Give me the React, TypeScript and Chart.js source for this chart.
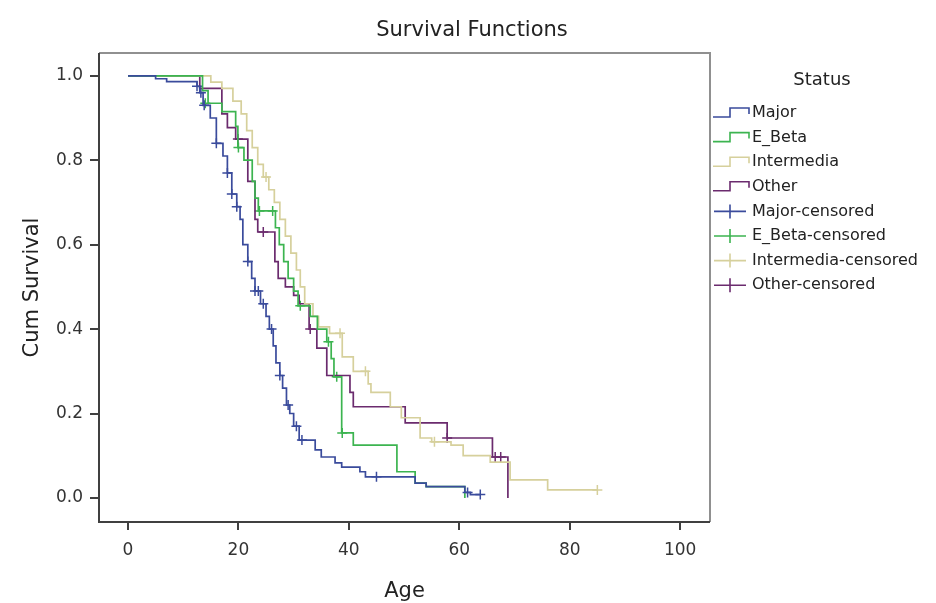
import React, { useEffect, useRef } from 'react';
import { Chart, registerables } from 'chart.js';

Chart.register(...registerables);

const FONT = '"DejaVu Sans", Verdana, sans-serif';

const chartTitle = 'Survival Functions';
const xTitle = 'Age';
const yTitle = 'Cum Survival';
const legendTitle = 'Status';

const seriesNames = ['Major', 'E_Beta', 'Intermedia', 'Other'];
const seriesColors = ['#3a4b9c', '#3cb450', '#d6d09c', '#6b2b6e'];

const xTicks = [0, 20, 40, 60, 80, 100];
const yTicks = [0, 0.2, 0.4, 0.6, 0.8, 1.0];

// Major
const majorAge = [0, 5, 7, 12.5, 13, 13.6, 14.9, 16, 17.2, 18, 18.8, 19.7, 20.3, 20.8, 21.7, 22.4, 23, 24, 25, 25.6, 26.3, 26.8, 27.5, 28, 28.7, 29.3, 30, 31, 33.9, 35, 37.5, 38.7, 42, 43, 52, 54, 61, 62, 63.8];
const majorSurv = [1, 0.993, 0.986, 0.975, 0.96, 0.93, 0.9, 0.84, 0.81, 0.77, 0.72, 0.69, 0.66, 0.6, 0.56, 0.52, 0.49, 0.46, 0.43, 0.4, 0.36, 0.32, 0.29, 0.26, 0.22, 0.2, 0.17, 0.137, 0.114, 0.097, 0.083, 0.073, 0.062, 0.05, 0.035, 0.027, 0.013, 0.008, 0.008];
const majorCensAge = [12.5, 13.2, 13.8, 16, 18, 18.8, 19.7, 21.7, 23, 23.6, 24.5, 26, 27.5, 29, 30.5, 31.5, 45, 61.5, 63.8];
const majorCensSurv = [0.975, 0.96, 0.93, 0.84, 0.77, 0.72, 0.69, 0.56, 0.49, 0.49, 0.46, 0.4, 0.29, 0.22, 0.17, 0.137, 0.05, 0.013, 0.008];

// E_Beta
const ebetaAge = [0, 13.5, 14.5, 17, 19.5, 19.9, 21, 22.5, 23, 23.6, 26.7, 27.4, 28.2, 29, 30, 30.8, 33, 34.3, 36, 36.8, 37.3, 38.7, 40.8, 48.7, 52, 54, 61];
const ebetaSurv = [1, 0.965, 0.935, 0.915, 0.88, 0.83, 0.8, 0.75, 0.71, 0.68, 0.64, 0.6, 0.56, 0.52, 0.49, 0.455, 0.43, 0.4, 0.37, 0.33, 0.287, 0.154, 0.125, 0.062, 0.035, 0.027, 0];
const ebetaCensAge = [14, 20, 23.8, 26.2, 31.2, 36.3, 37.8, 38.8];
const ebetaCensSurv = [0.935, 0.83, 0.68, 0.68, 0.455, 0.37, 0.287, 0.154];

// Intermedia
const interAge = [0, 15, 17, 19, 20.5, 21.5, 22.5, 23.5, 24.5, 25.5, 26.5, 27.5, 28.5, 29.5, 30.5, 31.2, 32, 33.5, 34.5, 36.5, 38.8, 40.8, 43.5, 44, 47.5, 49.5, 52.9, 55, 58.5, 60.7, 65.6, 69.2, 76, 85];
const interSurv = [1, 0.985, 0.97, 0.94, 0.91, 0.87, 0.83, 0.79, 0.76, 0.73, 0.7, 0.66, 0.62, 0.58, 0.54, 0.5, 0.46, 0.43, 0.405, 0.39, 0.334, 0.3, 0.27, 0.25, 0.216, 0.19, 0.142, 0.133, 0.125, 0.1, 0.085, 0.043, 0.019, 0.019];
const interCensAge = [25, 38.4, 43, 55.5, 85];
const interCensSurv = [0.76, 0.39, 0.3, 0.133, 0.019];

// Other
const otherAge = [0, 13, 17, 18, 19.5, 21.7, 23, 23.5, 26.6, 27.2, 28.5, 30, 31, 32.8, 34.2, 36, 40.2, 40.8, 50.2, 57.8, 66, 68.8];
const otherSurv = [1, 0.97, 0.91, 0.877, 0.85, 0.75, 0.66, 0.63, 0.56, 0.52, 0.5, 0.48, 0.46, 0.4, 0.355, 0.29, 0.25, 0.216, 0.178, 0.142, 0.097, 0];
const otherCensAge = [19.9, 24.5, 33, 57.8, 66.5, 67.5];
const otherCensSurv = [0.85, 0.63, 0.4, 0.142, 0.097, 0.097];

const curves = [
  [majorAge, majorSurv],
  [ebetaAge, ebetaSurv],
  [interAge, interSurv],
  [otherAge, otherSurv],
];
const censors = [
  [majorCensAge, majorCensSurv],
  [ebetaCensAge, ebetaCensSurv],
  [interCensAge, interCensSurv],
  [otherCensAge, otherCensSurv],
];

const toPoints = (xs: number[], ys: number[]) => xs.map((x, i) => ({ x, y: ys[i] }));

const decorPlugin = {
  id: 'decor',
  afterDraw(chart: any) {
    const ctx = chart.ctx as CanvasRenderingContext2D;
    const a = chart.chartArea;
    ctx.save();
    // frame
    ctx.lineWidth = 2;
    ctx.strokeStyle = '#909090';
    ctx.beginPath();
    ctx.moveTo(a.left, a.top);
    ctx.lineTo(a.right, a.top);
    ctx.lineTo(a.right, a.bottom);
    ctx.stroke();
    ctx.strokeStyle = '#404040';
    ctx.beginPath();
    ctx.moveTo(a.left, a.top);
    ctx.lineTo(a.left, a.bottom);
    ctx.lineTo(a.right, a.bottom);
    ctx.stroke();

    ctx.fillStyle = '#222';
    // title
    ctx.font = `21px ${FONT}`;
    ctx.textAlign = 'center';
    ctx.textBaseline = 'alphabetic';
    ctx.fillText(chartTitle, 472, 36);
    // x title
    ctx.font = `21px ${FONT}`;
    ctx.fillText(xTitle, (a.left + a.right) / 2, 597);
    // y title
    ctx.save();
    ctx.translate(33, (a.top + a.bottom) / 2);
    ctx.rotate(-Math.PI / 2);
    ctx.textBaseline = 'middle';
    ctx.fillText(yTitle, 0, 0);
    ctx.restore();

    // legend
    ctx.font = `18px ${FONT}`;
    ctx.textAlign = 'center';
    ctx.fillText(legendTitle, 822, 85);
    ctx.font = `16px ${FONT}`;
    ctx.textAlign = 'left';
    ctx.textBaseline = 'middle';
    const labels = [
      ...seriesNames.map((n, i) => ({ text: n, color: seriesColors[i], cross: false })),
      ...seriesNames.map((n, i) => ({ text: n + '-censored', color: seriesColors[i], cross: true })),
    ];
    labels.forEach((l, i) => {
      const y = 113 + i * 24.6;
      ctx.strokeStyle = l.color;
      ctx.lineWidth = 1.6;
      ctx.beginPath();
      if (l.cross) {
        ctx.moveTo(714, y);
        ctx.lineTo(746, y);
        ctx.moveTo(730, y - 7);
        ctx.lineTo(730, y + 7);
      } else {
        ctx.moveTo(713, y + 4);
        ctx.lineTo(730, y + 4);
        ctx.lineTo(730, y - 5);
        ctx.lineTo(749, y - 5);
        ctx.lineTo(749, y + 1);
      }
      ctx.stroke();
      ctx.fillStyle = '#222';
      ctx.fillText(l.text, 752, y);
    });
    ctx.restore();
  },
};

export default function App() {
  const ref = useRef<HTMLCanvasElement | null>(null);
  useEffect(() => {
    if (!ref.current) return;
    const datasets: any[] = [];
    curves.forEach(([xs, ys], i) => {
      datasets.push({
        label: seriesNames[i],
        data: toPoints(xs, ys),
        showLine: true,
        stepped: 'before',
        borderColor: seriesColors[i],
        borderWidth: 1.7,
        pointRadius: 0,
        fill: false,
      });
    });
    censors.forEach(([xs, ys], i) => {
      datasets.push({
        label: seriesNames[i] + '-censored',
        data: toPoints(xs, ys),
        showLine: false,
        pointStyle: 'cross',
        pointRadius: 5,
        pointBorderWidth: 1.5,
        borderColor: seriesColors[i],
        backgroundColor: seriesColors[i],
      });
    });
    const chart = new Chart(ref.current, {
      type: 'scatter',
      data: { datasets },
      options: {
        animation: false,
        responsive: false,
        devicePixelRatio: 1,
        layout: { padding: { left: 0, top: 53, right: 226, bottom: 0 } },
        plugins: { legend: { display: false }, tooltip: { enabled: false }, title: { display: false } },
        scales: {
          x: {
            type: 'linear',
            min: -5.25,
            max: 105.4,
            afterFit: (s: any) => { s.height = 81; },
            afterBuildTicks: (s: any) => { s.ticks = xTicks.map((v) => ({ value: v })); },
            grid: { drawOnChartArea: false, drawTicks: true, tickLength: 8, color: '#404040', lineWidth: 2 },
            border: { display: false },
            ticks: { font: { family: FONT, size: 17 }, color: '#333', padding: 10, maxRotation: 0 },
          },
          y: {
            type: 'linear',
            min: -0.057,
            max: 1.054,
            afterFit: (s: any) => { s.width = 99; },
            afterBuildTicks: (s: any) => { s.ticks = yTicks.map((v) => ({ value: v })); },
            grid: { drawOnChartArea: false, drawTicks: true, tickLength: 9, color: '#404040', lineWidth: 2 },
            border: { display: false },
            ticks: { font: { family: FONT, size: 17 }, color: '#333', padding: 7, callback: (v: any) => Number(v).toFixed(1) },
          },
        },
      },
      plugins: [decorPlugin],
    } as any);
    return () => chart.destroy();
  }, []);
  return (
    <div style={{ position: 'absolute', left: 0, top: 0, width: 936, height: 603, background: '#fff' }}>
      <canvas ref={ref} width={936} height={603} style={{ display: 'block' }} />
    </div>
  );
}
